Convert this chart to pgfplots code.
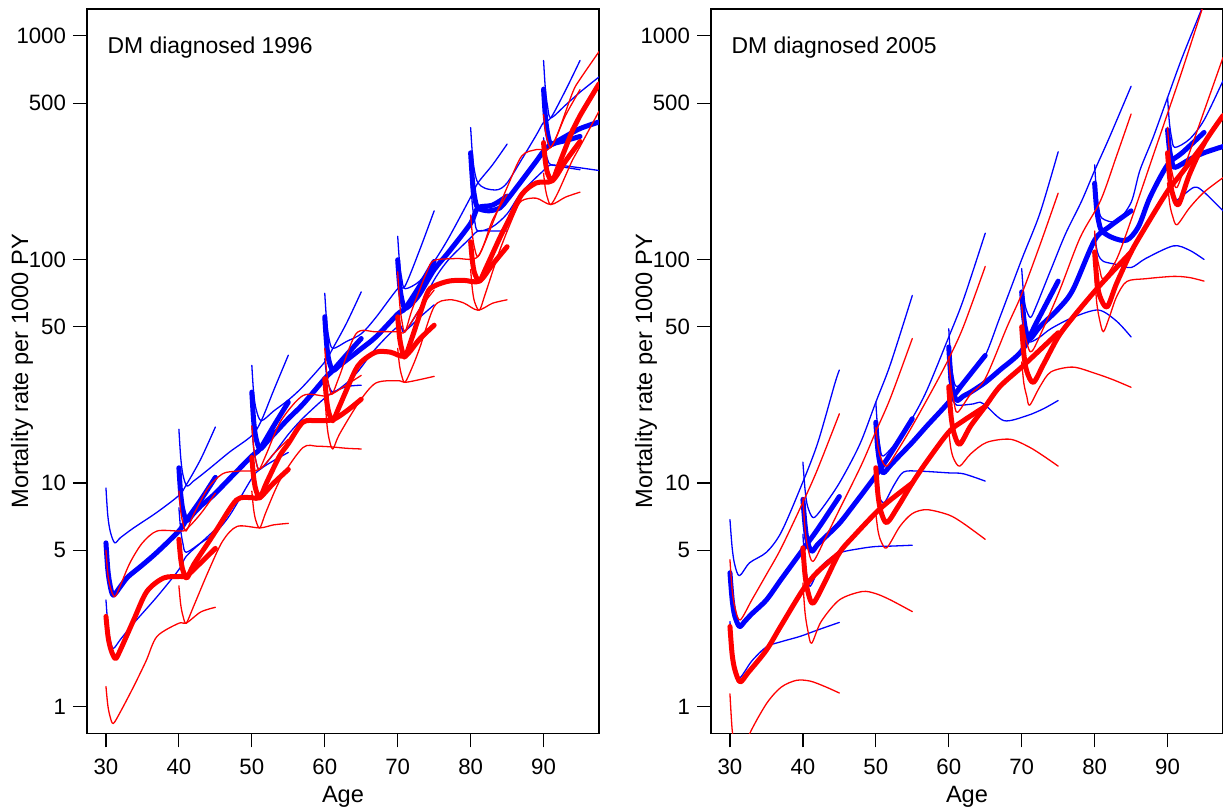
\documentclass[border=0pt]{standalone}
\usepackage{fontspec}
\setmainfont{Liberation Sans}
\usepackage{pgfplots}
\pgfplotsset{compat=1.18}
\tikzset{
  bk/.style={blue, line width=2.5pt, smooth, tension=0.5, line cap=round, line join=round},
  bn/.style={blue, line width=0.65pt, smooth, tension=0.5, line cap=round, line join=round},
  rk/.style={red, line width=2.5pt, smooth, tension=0.5, line cap=round, line join=round},
  rn/.style={red, line width=0.65pt, smooth, tension=0.5, line cap=round, line join=round},
}
\pgfplotsset{every axis/.append style={
    scale only axis, width=256pt, height=362.25pt,
    xmin=27.4, xmax=97.6, ymin=0.758, ymax=1319,
    xtick={30,40,50,60,70,80,90}, xticklabels={30,40,50,60,70,80,90},
    ytick={1,5,10,50,100,500,1000}, yticklabels={1,5,10,50,100,500,1000},
    tick pos=left, tick align=outside, major tick length=7pt,
    tick style={black, line width=0.6pt},
    axis line style={black, line width=0.65pt},
    tick label style={font=\fontsize{11.1}{13.3}\selectfont},
    label style={font=\fontsize{11.8}{14}\selectfont},
    xlabel={Age}, ylabel={Mortality rate per 1000 PY},
    xticklabel style={yshift=-2.3pt},
  },
  every axis x label/.style={at={(axis description cs:0.5,-0.0875)},anchor=center},
  every axis y label/.style={at={(axis description cs:-0.127,0.5)},rotate=90,anchor=center},
}
\begin{document}
\begin{tikzpicture}[font=\fontsize{11.45}{13.7}\selectfont]
\useasboundingbox (0,0) rectangle (611.5pt,404.5pt);
% ================= LEFT PANEL: 1996 =================
\begin{semilogyaxis}[at={(43.5pt,37.75pt)}, anchor=south west]
% blue thick
\addplot[bk] coordinates {(30,5.4)(30.25,4.12)(30.55,3.51)(31,3.15)(32,3.45)(33,3.8)(35,4.3)(37,4.9)(40,6.1)(41,6.8)(43,8.4)(45,10.6)};
\addplot[bk] coordinates {(40,11.7)(40.25,8.92)(40.55,7.58)(41.1,6.8)(42,7.3)(43,7.9)(44.7,8.8)(47,10.5)(50,13.2)(51.1,14.2)(53,18)(55,23)};
\addplot[bk] coordinates {(50,25.5)(50.25,19)(50.55,16)(51.1,14.2)(52,15.2)(53,16.5)(55,19.4)(57,22.5)(60,29.3)(61.1,31.9)(63,37.5)(65,44.3)};
\addplot[bk] coordinates {(60,55.4)(60.25,42)(60.55,35.6)(61.1,31.9)(62,33.5)(63,35.5)(65,39.9)(67,45)(70,57)(71,60.4)(73,76)(75,98)};
\addplot[bk] coordinates {(70,99.6)(70.25,77.6)(70.55,66.7)(71,60.4)(72,64)(73,70)(75,90)(77,108)(80,145)(81,170)(83,175)(85,192)};
\addplot[bk] coordinates {(80,300)(80.25,226)(80.55,190)(81,170)(82.5,165)(84,170)(85,185)(87,225)(89,275)(90,305)(91,327)(93,340)(95,355)};
\addplot[bk] coordinates {(90,578)(90.25,435)(90.55,366)(91,327)(92,340)(93,355)(95,385)(97.6,412)};
% blue thin upper
\addplot[bn] coordinates {(30,9.5)(30.25,7.16)(30.6,6.05)(31.2,5.4)(32,5.7)(33.8,6.3)(37,7.4)(40,8.8)(41,9.8)(43,12.8)(45,17.8)};
\addplot[bn] coordinates {(40,17.4)(40.25,13)(40.55,10.9)(41.1,9.7)(42,10.2)(43,10.8)(44.6,11.9)(47,13.8)(50,16.3)(51.3,19)(53,26)(55,37.3)};
\addplot[bn] coordinates {(50,33.6)(50.25,25.3)(50.6,21.3)(51.3,19)(53,21)(55,23.5)(57,27)(60,34.8)(61.1,40)(63,52)(65,71.6)};
\addplot[bn] coordinates {(60,70.6)(60.25,53.1)(60.55,44.8)(61.1,40)(63,43)(65,46.5)(67,55)(70,74)(71,76)(73,110)(75,165)};
\addplot[bn] coordinates {(70,127)(70.25,96.9)(70.55,82.4)(71,74)(73,80)(75,98)(77,125)(80,190)(81,220)(83,265)(85,328)};
\addplot[bn] coordinates {(80,389)(80.25,293)(80.55,247)(81,220)(82,208)(83.7,205)(85,220)(87,280)(89,360)(90,410)(91,430)(93,570)(95,776)};
\addplot[bn] coordinates {(90,776)(90.25,578)(90.55,484)(91,430)(93,490)(95,560)(97.6,655)};
% blue thin lower
\addplot[bn] coordinates {(30,3.0)(30.25,2.34)(30.55,2.01)(31,1.82)(32,2.0)(33.8,2.36)(37,3.1)(40,4.1)(41,4.7)(43,5.4)(45,6.2)};
\addplot[bn] coordinates {(40,7.75)(40.25,6.16)(40.55,5.37)(41,4.9)(43,5.4)(45,6.0)(47,7.2)(50,10.5)(51.1,11.5)(53,12.6)(55,13.7)};
\addplot[bn] coordinates {(50,18)(50.25,14.4)(50.55,12.6)(51.1,11.5)(53,13.5)(55,16.5)(57,19.5)(60,24)(61.2,25.5)(63,27)(65,27.4)};
\addplot[bn] coordinates {(60,36)(60.25,30.3)(60.55,27.3)(61.2,25.5)(63,28)(64.5,31.4)(67,40)(70,50)(71,48)(73,55)(75,62.7)};
\addplot[bn] coordinates {(70,58)(70.25,52.5)(70.55,49.4)(71,47.5)(73,60)(75,81)(77,100)(80,125)(81,134)(83,134)(85,134)};
\addplot[bn] coordinates {(80,225)(80.25,174)(80.55,149)(81,134)(83,140)(85,160)(87,200)(90,250)(91,265)(93,258)(95,252)};
\addplot[bn] coordinates {(90,350)(90.25,305)(90.55,280)(91,265)(93,262)(95,257)(97.6,250)};
% red thick
\addplot[rk] coordinates {(30,2.53)(30.3,2.04)(30.7,1.79)(31.3,1.64)(32,1.8)(33.8,2.44)(35.6,3.27)(37.9,3.76)(40.2,3.82)(41.1,3.85)(43,4.4)(45,5.1)};
\addplot[rk] coordinates {(40,5.6)(40.25,4.59)(40.55,4.07)(41.1,3.76)(42,4.3)(44,5.4)(45.2,6.2)(47.9,8.4)(50,8.6)(51.1,8.6)(53,10)(55,11.5)};
\addplot[rk] coordinates {(50,13)(50.25,10.6)(50.55,9.34)(51.1,8.6)(52,10)(53.8,13.2)(55,15)(57,18.7)(59,19)(61.1,19.2)(63,21)(65,23.7)};
\addplot[rk] coordinates {(60,29.3)(60.25,23.6)(60.55,20.7)(61.1,19)(62,22)(64,31)(65,34.8)(67,38.5)(69,38.5)(71,37)(73,44)(75,50.8)};
\addplot[rk] coordinates {(70,55.4)(70.25,45)(70.55,39.8)(71,36.6)(72,45)(74,70)(75,76)(77,80)(79,80.7)(81.2,80)(83,95)(85,114)};
\addplot[rk] coordinates {(80,120)(80.25,98)(80.55,86.7)(81.2,80)(82,90)(84,125)(85,145)(87,195)(89,220)(91.2,225)(93,275)(95,337)};
\addplot[rk] coordinates {(90,333)(90.25,274)(90.55,243)(91.2,225)(92,260)(94,380)(95,440)(97.6,610)};
% red thin upper
\addplot[rn] coordinates {(30,5)(30.25,3.94)(30.6,3.41)(31.2,3.1)(32,3.5)(33.3,4.4)(35,5.4)(37,6.1)(40,6.1)(41,6.2)(43,7.3)(45,9)};
\addplot[rn] coordinates {(40,9.2)(40.25,7.49)(40.55,6.62)(41,6.1)(42,7.2)(44,9.5)(46,11)(48,11.3)(51,11.5)(53,13.5)(55,15.7)};
\addplot[rn] coordinates {(50,18)(50.25,14.4)(50.55,12.6)(51,11.5)(52,13.5)(54,19)(57,24.6)(60,24.5)(61,25)(63,27.5)(65,30.3)};
\addplot[rn] coordinates {(60,40)(60.25,31.6)(60.55,27.5)(61,25)(62,30)(64.3,46.6)(67,47.5)(70,47.5)(71,47.5)(73,60)(75,73)};
\addplot[rn] coordinates {(70,88)(70.25,64.7)(70.55,53.7)(71,47.5)(72,60)(74,88)(75,99)(78,101)(81,103)(83,150)(85,195)};
\addplot[rn] coordinates {(80,158)(80.25,128)(80.55,112)(81,103)(82,120)(84,175)(85,210)(87,290)(89,310)(91,317)(93,440)(95,575)};
\addplot[rn] coordinates {(90,445)(90.25,376)(90.55,339)(91,317)(92,370)(94,560)(95,640)(97.6,850)};
% red thin lower
\addplot[rn] coordinates {(30,1.23)(30.25,1.016)(30.55,0.906)(31,0.84)(32,0.95)(33.8,1.23)(35.5,1.6)(37,2.06)(40,2.36)(41,2.36)(43,2.65)(45,2.78)};
\addplot[rn] coordinates {(40,3.47)(40.25,2.86)(40.55,2.55)(41,2.36)(42,2.8)(44,4)(46,5.5)(48,6.4)(51.1,6.3)(53,6.5)(55,6.6)};
\addplot[rn] coordinates {(50,9.2)(50.25,7.61)(50.55,6.8)(51.1,6.3)(52,7.5)(54,10.5)(57,14.4)(59,14.6)(61,14.5)(63,14.3)(65,14.2)};
\addplot[rn] coordinates {(60,25.5)(60.25,19)(60.55,16)(61.1,14.2)(62,16.5)(64.7,23)(67,28)(70,28.7)(71,28.2)(73,29)(75,30)};
\addplot[rn] coordinates {(70,40)(70.25,33.6)(70.55,30.2)(71,28.2)(72,33)(73,40)(75,61.5)(77,66)(79,64)(81,59.3)(83,63.7)(85,66)};
\addplot[rn] coordinates {(80,90)(80.25,73)(80.55,64.5)(81.2,59.3)(82,70)(84,110)(86,160)(87,183)(89,188)(91,176)(93,190)(95,200)};
\addplot[rn] coordinates {(90,243)(90.25,207)(90.55,188)(91,176)(92,200)(94,280)(95,320)(97.6,460)};
\node[anchor=base west, inner sep=0pt] at (axis cs:30.18,830) {DM diagnosed 1996};
\end{semilogyaxis}
% ================= RIGHT PANEL: 2005 =================
\begin{semilogyaxis}[at={(355.5pt,37.75pt)}, anchor=south west]
% blue thick
\addplot[bk] coordinates {(30,3.97)(30.3,3.01)(30.65,2.55)(31.3,2.28)(32,2.4)(33,2.6)(35,3.0)(37,3.7)(40,5.04)(42,6.2)(45,8.7)};
\addplot[bk] coordinates {(40,8.45)(40.3,6.47)(40.6,5.51)(41.2,4.95)(42,5.3)(43,5.7)(45,6.6)(47,8.0)(50,10.8)(52,13.5)(55,19.4)};
\addplot[bk] coordinates {(50,18.7)(50.25,14.4)(50.55,12.3)(51,11.1)(52,12)(53,13)(55,15.2)(57,18)(60,23)(62,28)(65,37.2)};
\addplot[bk] coordinates {(60,40.6)(60.25,30.8)(60.55,26.1)(61.1,23.4)(62,24.5)(63,25.5)(65,28.2)(67,32)(70,39)(72,52)(75,80)};
\addplot[bk] coordinates {(70,71.6)(70.25,56.1)(70.55,48.5)(71.1,44)(72.5,50)(75,60)(77,73)(80,122)(82,140)(85,165)};
\addplot[bk] coordinates {(80,219)(80.25,171)(80.55,148)(81,134)(82.5,125)(84.4,122)(86,140)(87.6,190)(90,265)(92,300)(95,370)};
\addplot[bk] coordinates {(90,380)(90.25,313)(90.55,279)(91,258)(93,280)(95,300)(97.6,320)};
% blue thin upper
\addplot[bn] coordinates {(30,6.86)(30.3,5.14)(30.65,4.32)(31.3,3.85)(32.7,4.4)(35,4.9)(37,6.0)(39.6,9.4)(42,15)(44.4,28)(45,32)};
\addplot[bn] coordinates {(40,12.4)(40.3,9.32)(40.65,7.85)(41.4,7)(42.5,7.6)(45,10)(47.8,14.9)(50,23)(52,34)(55,69)};
\addplot[bn] coordinates {(50,23)(50.25,17.4)(50.55,14.7)(51,13.2)(53,15.5)(55,19.5)(57,26)(60,45)(62,66)(65,131)};
\addplot[bn] coordinates {(60,49)(60.25,36.4)(60.55,30.4)(61.1,27)(63,31)(65,37.2)(67,55)(70,100)(72.5,161)(75,303)};
\addplot[bn] coordinates {(70,91)(70.25,70.7)(70.55,60.8)(71.2,55)(72,62)(74,90)(76,130)(78.2,182)(80,250)(82,350)(85,595)};
\addplot[bn] coordinates {(80,265)(80.25,201)(80.55,171)(81,153)(83,148)(85,180)(86.2,250)(88,350)(90,530)(92,800)(95,1400)};
\addplot[bn] coordinates {(90,530)(90.25,410)(90.55,351)(91,317)(93,345)(95,420)(97.6,630)};
% blue thin lower
\addplot[bn] coordinates {(30,2.4)(30.3,1.79)(30.65,1.51)(31.3,1.34)(33,1.6)(35,1.85)(37,1.95)(39.6,2.06)(42,2.2)(45,2.38)};
\addplot[bn] coordinates {(40,5.9)(40.25,4.51)(40.55,3.84)(41,3.45)(42,4.0)(43,4.4)(45,4.87)(48,5.1)(50,5.2)(52,5.22)(55,5.27)};
\addplot[bn] coordinates {(50,10)(50.25,9.05)(50.55,8.53)(51.2,8.2)(52.5,9.8)(53.8,11.2)(56,11.3)(60,11.1)(62,11)(65,10.2)};
\addplot[bn] coordinates {(60,30)(60.25,25.9)(60.55,23.7)(61.1,22.3)(63.4,22.6)(64.3,23)(65.2,22)(67.6,19)(70.7,20)(73,21.5)(75,23.4)};
\addplot[bn] coordinates {(70,50)(70.25,46.2)(70.55,44.1)(71.2,42.7)(72.5,45)(74,49)(77,55)(80.5,59.4)(83,53)(85,45)};
\addplot[bn] coordinates {(80,130)(80.25,113)(80.55,104)(81.2,98)(83,95)(85,92)(87,101)(90.8,115)(93,110)(95,100)};
\addplot[bn] coordinates {(90,286)(90.25,228)(90.55,199)(91,182)(93.6,210)(95,200)(97.6,165)};
% red thick
\addplot[rk] coordinates {(30,2.28)(30.3,1.71)(30.7,1.45)(31.4,1.29)(32.5,1.42)(35,1.79)(37,2.3)(40,3.33)(42,4.0)(45,4.87)};
\addplot[rk] coordinates {(40,5.13)(40.3,3.86)(40.7,3.25)(41.4,2.9)(43,3.6)(45,4.87)(47,5.8)(50,7.36)(52,8.4)(55,10)};
\addplot[rk] coordinates {(50,11.7)(50.3,8.82)(50.7,7.45)(51.5,6.65)(53,7.8)(55,10)(57,12.5)(60,16.9)(62,19)(65,22)};
\addplot[rk] coordinates {(60,27)(60.3,20.1)(60.7,16.8)(61.5,14.9)(63,18)(65,22)(67,27)(70,33)(72,38)(75,47)};
\addplot[rk] coordinates {(70,50)(70.3,37.6)(70.7,31.6)(71.6,28.2)(73,34)(75,45)(77,55)(80,72)(82,85)(85,108)};
\addplot[rk] coordinates {(80,108)(80.3,81.4)(80.7,68.7)(81.7,61.3)(83,78)(85,108)(87,140)(90,202)(92,245)(95,330)};
\addplot[rk] coordinates {(90,300)(90.3,230)(90.7,196)(91.5,176)(93,240)(95,330)(97.6,440)};
% red thin upper
\addplot[rn] coordinates {(30,4.54)(30.3,3.33)(30.7,2.76)(31.4,2.44)(33,3.0)(35,3.9)(37,5.1)(40,8.2)(42,11.5)(45,20.4)};
\addplot[rn] coordinates {(40,8.6)(40.3,6.19)(40.7,5.08)(41.4,4.46)(43,5.6)(45,7.6)(48,12)(50,17)(52,24)(55,44.3)};
\addplot[rn] coordinates {(50,17.7)(50.3,14.5)(50.7,12.9)(51.5,11.9)(53,14)(55,18)(58,27)(60,36)(62,50)(65,93)};
\addplot[rn] coordinates {(60,36.7)(60.3,27.6)(60.7,23.2)(61.2,20.7)(63,25)(65,29.3)(68,50)(70,70)(72.5,116)(75,198)};
\addplot[rn] coordinates {(70,62.8)(70.3,49.2)(70.7,42.5)(71.2,38.6)(72,42)(75,70)(78,125)(80.8,183)(83,290)(85,447)};
\addplot[rn] coordinates {(80,134)(80.3,105)(80.7,90.5)(81.2,82)(83,100)(85,150)(88,290)(90,450)(92,700)(95,1400)};
\addplot[rn] coordinates {(90,390)(90.3,286)(90.7,238)(91.3,210)(93,300)(95,460)(97.6,800)};
% red thin lower
\addplot[rn] coordinates {(30,1.14)(30.3,0.79)(30.7,0.64)(31.4,0.55)(32,0.62)(32.7,0.756)(35,1.03)(37,1.22)(39.1,1.31)(41,1.3)(43,1.23)(45,1.15)};
\addplot[rn] coordinates {(40,3.57)(40.3,2.62)(40.7,2.17)(41.2,1.92)(42.5,2.4)(45,3.0)(48.1,3.27)(50,3.2)(52,3.0)(55,2.66)};
\addplot[rn] coordinates {(50,7.3)(50.3,6.12)(50.7,5.5)(51.5,5.13)(53.3,6.4)(55,7.3)(57,7.6)(60,7.2)(62,6.6)(65,5.6)};
\addplot[rn] coordinates {(60,17)(60.3,14.2)(60.7,12.8)(61.5,11.9)(63,13.5)(65.2,15.2)(68.4,15.7)(71,14.5)(73,13.2)(75,11.9)};
\addplot[rn] coordinates {(70,34.8)(70.3,27.9)(70.7,24.4)(71.1,22.3)(72.5,27)(74,31.4)(77,33)(80,31)(82.5,29)(85,26.8)};
\addplot[rn] coordinates {(80,85)(80.3,63.6)(80.7,53.4)(81.2,47.5)(82,55)(83,68)(84.4,79.7)(87,82)(90.8,84)(93,83)(95,80)};
\addplot[rn] coordinates {(90,220)(90.3,177)(90.7,156)(91.3,143)(93,170)(95,200)(97.6,232)};
\node[anchor=base west, inner sep=0pt] at (axis cs:30.18,830) {DM diagnosed 2005};
\end{semilogyaxis}
\end{tikzpicture}
\end{document}
